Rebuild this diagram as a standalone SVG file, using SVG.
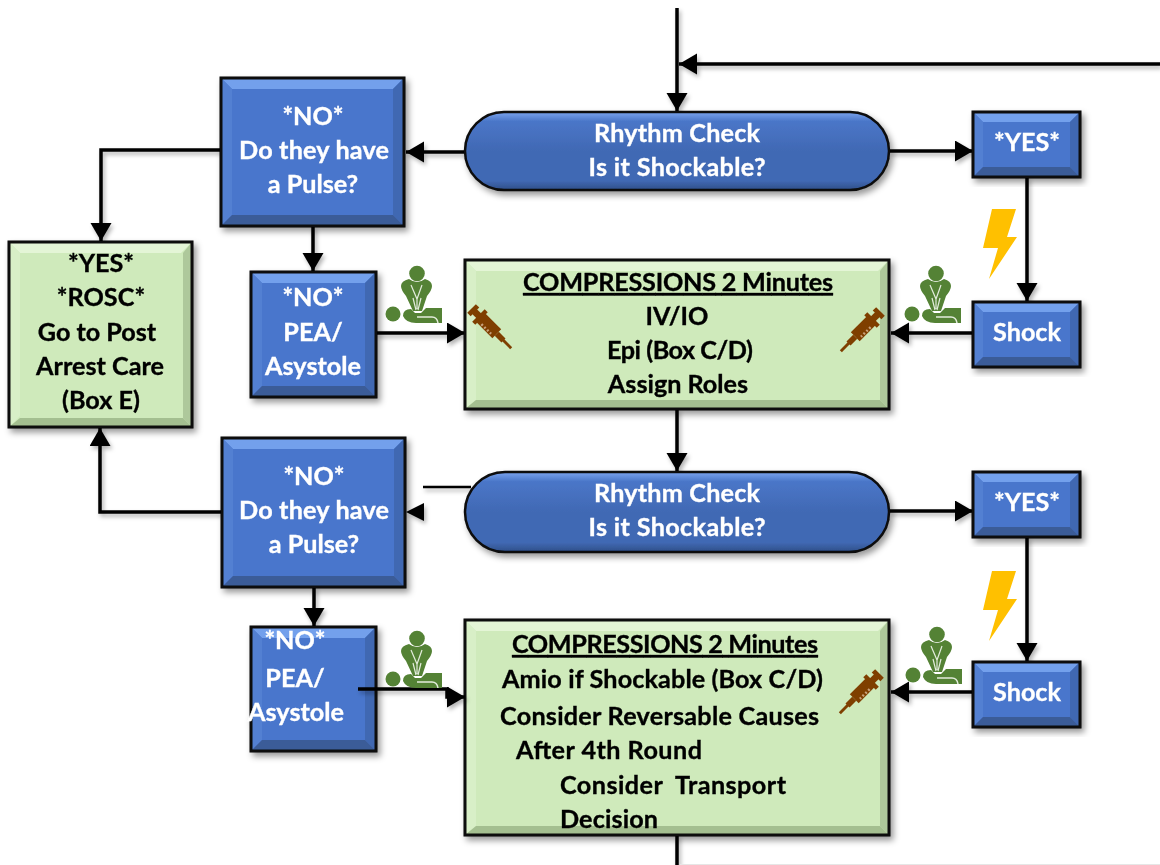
<svg xmlns="http://www.w3.org/2000/svg" xmlns:xlink="http://www.w3.org/1999/xlink" width="1160" height="865" viewBox="0 0 1160 865">
<style>
text{font-family:Lato,Carlito,"Open Sans",sans-serif;font-weight:700;font-size:25.2px;stroke-width:.35px}
.w{fill:#fff;stroke:#fff}.k{fill:#000;stroke:#000}
.m{text-anchor:middle}
.e{fill:none;stroke:#0c0c0c;stroke-width:3}
.bf{fill:#4a76cc}.bt{fill:#73a0ec}.bl{fill:#5380d2}.br{fill:#3f68b2}.bb{fill:#3a5c98}
.gf{fill:#cfeabb}.gt{fill:#e4f5d6}.gl{fill:#d8efc7}.gr{fill:#aec89b}.gb{fill:#a4bf90}
.c{fill:none;stroke:#000;stroke-width:3.5}
</style>
<defs>
<filter id="s" x="-15%" y="-15%" width="130%" height="130%"><feDropShadow dx="3" dy="4" stdDeviation="3" flood-color="#000" flood-opacity=".4"/></filter>
<filter id="ls" filterUnits="userSpaceOnUse" x="0" y="0" width="1160" height="865"><feDropShadow dx="2" dy="3" stdDeviation="2" flood-color="#000" flood-opacity=".3"/></filter>
<linearGradient id="pill" x1="0" y1="0" x2="0" y2="1"><stop offset="0" stop-color="#7ba4ee"/><stop offset=".12" stop-color="#4a76c8"/><stop offset=".5" stop-color="#4169b4"/><stop offset=".88" stop-color="#4169b4"/><stop offset="1" stop-color="#2f4f88"/></linearGradient>
<marker id="a" markerUnits="userSpaceOnUse" markerWidth="20" markerHeight="22" refX="18" refY="10.5" orient="auto"><path d="M0 0L18 10.5L0 21z" fill="#000"/></marker>
<symbol id="cpr" viewBox="0 0 58 58" overflow="visible">
<circle cx="31" cy="7.5" r="7.8" fill="#548235"/>
<path d="M15 20Q15 15 23 13Q31 19 39 13Q46 15 46 20Q46 24 41 30L36 45H27L20 30Q15 24 15 20z" fill="#548235"/>
<path d="M25 19L31 33L36 19M31 33V43M27 32L30 44M35 32L32 44" fill="none" stroke="#e3ecdc" stroke-width="1.2"/>
<circle cx="7" cy="48" r="7.5" fill="#548235"/>
<path d="M17 50Q17 43 25 43L29 47H35L40 42H56V57H30Q20 57 17 50z" fill="#548235"/>
<path d="M31 51H46Q51 51 52 57" fill="none" stroke="#e3ecdc" stroke-width="1.5"/>
</symbol>
<symbol id="syr" viewBox="0 0 50 50" overflow="visible">
<g fill="none" stroke="#7f3f00">
<path d="M2 11L11 2" stroke-width="5"/>
<path d="M6 6L14 14" stroke-width="7"/>
<path d="M7 20L20 7" stroke-width="4.5"/>
<path d="M14 14L31 31" stroke-width="13"/>
<path d="M31 31L38 38" stroke-width="6"/>
<path d="M36 36L46 46" stroke-width="3"/>
<path d="M15 21L25 31" stroke="#c9a27c" stroke-width="2.6" stroke-dasharray="2 2.2"/>
</g>
</symbol>
<symbol id="bolt" viewBox="0 0 34 70"><path d="M9 0H33L24 28H34L6 70L15 39H0z" fill="#ffc000"/></symbol>
</defs>

<g id="connectors" filter="url(#ls)">
<path class="c" d="M677 8V111" marker-end="url(#a)"/>
<path class="c" d="M1160 64H679" marker-end="url(#a)"/>
<path class="c" d="M466 152H406" marker-end="url(#a)"/>
<path class="c" d="M889 151H973" marker-end="url(#a)"/>
<path class="c" d="M221 150H101V241" marker-end="url(#a)"/>
<path class="c" d="M313 226V271" marker-end="url(#a)"/>
<path class="c" d="M1027 177V301" marker-end="url(#a)"/>
<path class="c" d="M973 333H891" marker-end="url(#a)"/>
<path class="c" d="M376 333H465" marker-end="url(#a)"/>
<path class="c" d="M677 409V471" marker-end="url(#a)"/>
<path class="c" d="M423 487H471" style="stroke-width:2.5"/>
<path d="M406 512L424 503V521z" fill="#000"/>
<path class="c" d="M222 512H100V428" marker-end="url(#a)"/>
<path class="c" d="M314 587V626" marker-end="url(#a)"/>
<path class="c" d="M889 511H973" marker-end="url(#a)"/>
<path class="c" d="M1027 537V661" marker-end="url(#a)"/>
<path class="c" d="M973 692H891" marker-end="url(#a)"/>
<path class="c" d="M677 835V865"/>
</g>
<path d="M680 864.5H1160" stroke="#e6e6e6" stroke-width="1" fill="none"/>

<g id="rosc" filter="url(#s)">
<rect class="gf" x="9" y="242" width="183" height="185"/>
<path class="gt" d="M9 242H192L181 253H20z"/><path class="gl" d="M9 242L20 253V416L9 427z"/><path class="gr" d="M192 242L183 253V418L192 427z"/><path class="gb" d="M9 427L20 418H183L192 427z"/>
<rect class="e" x="9" y="242" width="183" height="185"/>
<text class="k m" x="101" y="272">*YES*</text><text class="k m" x="101" y="306">*ROSC*</text><text class="k m" x="97" y="341">Go to Post</text><text class="k m" x="100" y="375">Arrest Care</text><text class="k m" x="101" y="409">(Box E)</text>
</g>

<g id="pulse1" filter="url(#s)">
<rect class="bf" x="221" y="78" width="183" height="148"/>
<path class="bt" d="M221 78H404L393 89H232z"/><path class="bl" d="M221 78L232 89V215L221 226z"/><path class="br" d="M404 78L393 89V215L404 226z"/><path class="bb" d="M221 226L232 215H393L404 226z"/>
<rect class="e" x="221" y="78" width="183" height="148"/>
<text class="w m" x="313" y="125">*NO*</text><text class="w m" x="314" y="159" textLength="150">Do they have</text><text class="w m" x="313" y="193">a Pulse?</text>
</g>

<g id="pea1" filter="url(#s)">
<rect class="bf" x="251" y="272" width="125" height="125"/>
<path class="bt" d="M251 272H376L365 283H262z"/><path class="bl" d="M251 272L262 283V386L251 397z"/><path class="br" d="M376 272L365 283V386L376 397z"/><path class="bb" d="M251 397L262 386H365L376 397z"/>
<rect class="e" x="251" y="272" width="125" height="125"/>
<text class="w m" x="313" y="306">*NO*</text><text class="w m" x="313" y="341">PEA/</text><text class="w m" x="313" y="375">Asystole</text>
</g>

<g id="rhythm1" filter="url(#s)">
<rect x="465" y="112" width="424" height="78" rx="39" fill="url(#pill)" stroke="#0c0c0c" stroke-width="2.5"/>
<text class="w m" x="677" y="142" textLength="166">Rhythm Check</text><text class="w m" x="677" y="176" textLength="177">Is it Shockable?</text>
</g>

<g id="yes1" filter="url(#s)">
<rect class="bf" x="973" y="112" width="107" height="65"/>
<path class="bt" d="M973 112H1080L1070 122H983z"/><path class="bl" d="M973 112L983 122V167L973 177z"/><path class="br" d="M1080 112L1070 122V167L1080 177z"/><path class="bb" d="M973 177L983 167H1070L1080 177z"/>
<rect class="e" x="973" y="112" width="107" height="65"/>
<text class="w m" x="1027" y="151">*YES*</text>
</g>

<g id="shock1" filter="url(#s)">
<rect class="bf" x="973" y="302" width="107" height="65"/>
<path class="bt" d="M973 302H1080L1070 312H983z"/><path class="bl" d="M973 302L983 312V357L973 367z"/><path class="br" d="M1080 302L1070 312V357L1080 367z"/><path class="bb" d="M973 367L983 357H1070L1080 367z"/>
<rect class="e" x="973" y="302" width="107" height="65"/>
<text class="w m" x="1027" y="341">Shock</text>
</g>

<g id="comp1" filter="url(#s)">
<rect class="gf" x="465" y="260" width="424" height="149"/>
<path class="gt" d="M465 260H889L878 271H476z"/><path class="gl" d="M465 260L476 271V400L465 409z"/><path class="gr" d="M889 260L880 271V400L889 409z"/><path class="gb" d="M465 409L476 400H880L889 409z"/>
<rect class="e" x="465" y="260" width="424" height="149"/>
<text class="k m" x="678" y="291" text-decoration="underline" textLength="310">COMPRESSIONS 2 Minutes</text><text class="k m" x="677" y="325">IV/IO</text><text class="k m" x="680" y="359" textLength="146">Epi (Box C/D)</text><text class="k m" x="678" y="393">Assign Roles</text>
</g>

<g id="pulse2" filter="url(#s)">
<rect class="bf" x="222" y="438" width="183" height="149"/>
<path class="bt" d="M222 438H405L394 449H233z"/><path class="bl" d="M222 438L233 449V576L222 587z"/><path class="br" d="M405 438L394 449V576L405 587z"/><path class="bb" d="M222 587L233 576H394L405 587z"/>
<rect class="e" x="222" y="438" width="183" height="149"/>
<text class="w m" x="314" y="485">*NO*</text><text class="w m" x="314" y="519" textLength="150">Do they have</text><text class="w m" x="314" y="553">a Pulse?</text>
</g>

<g id="pea2" filter="url(#s)">
<rect class="bf" x="251" y="627" width="125" height="124"/>
<path class="bt" d="M251 627H376L365 638H262z"/><path class="bl" d="M251 627L262 638V740L251 751z"/><path class="br" d="M376 627L365 638V740L376 751z"/><path class="bb" d="M251 751L262 740H365L376 751z"/>
<rect class="e" x="251" y="627" width="125" height="124"/>
<text class="w m" x="295" y="649">*NO*</text><text class="w m" x="295" y="687">PEA/</text><text class="w m" x="296" y="721">Asystole</text>
</g>

<g id="rhythm2" filter="url(#s)">
<rect x="465" y="472" width="424" height="80" rx="40" fill="url(#pill)" stroke="#0c0c0c" stroke-width="2.5"/>
<text class="w m" x="677" y="502" textLength="166">Rhythm Check</text><text class="w m" x="677" y="536" textLength="177">Is it Shockable?</text>
</g>

<g id="yes2" filter="url(#s)">
<rect class="bf" x="973" y="472" width="107" height="65"/>
<path class="bt" d="M973 472H1080L1070 482H983z"/><path class="bl" d="M973 472L983 482V527L973 537z"/><path class="br" d="M1080 472L1070 482V527L1080 537z"/><path class="bb" d="M973 537L983 527H1070L1080 537z"/>
<rect class="e" x="973" y="472" width="107" height="65"/>
<text class="w m" x="1027" y="511">*YES*</text>
</g>

<g id="shock2" filter="url(#s)">
<rect class="bf" x="973" y="662" width="107" height="65"/>
<path class="bt" d="M973 662H1080L1070 672H983z"/><path class="bl" d="M973 662L983 672V717L973 727z"/><path class="br" d="M1080 662L1070 672V717L1080 727z"/><path class="bb" d="M973 727L983 717H1070L1080 727z"/>
<rect class="e" x="973" y="662" width="107" height="65"/>
<text class="w m" x="1027" y="701">Shock</text>
</g>

<g id="comp2" filter="url(#s)">
<rect class="gf" x="465" y="620" width="424" height="215"/>
<path class="gt" d="M465 620H889L878 631H476z"/><path class="gl" d="M465 620L476 631V826L465 835z"/><path class="gr" d="M889 620L880 631V826L889 835z"/><path class="gb" d="M465 835L476 826H880L889 835z"/>
<rect class="e" x="465" y="620" width="424" height="215"/>
<text class="k m" x="665" y="653" text-decoration="underline" textLength="306">COMPRESSIONS 2 Minutes</text>
<text class="k" x="502" y="688" textLength="321">Amio if Shockable (Box C/D)</text>
<text class="k" x="500" y="725" textLength="319">Consider Reversable Causes</text>
<text class="k" x="516" y="759" textLength="186">After 4th Round</text>
<text class="k" x="560" y="794" xml:space="preserve" textLength="226">Consider  Transport</text>
<text class="k" x="560" y="828" textLength="98">Decision</text>
</g>

<g id="connector-overlay" filter="url(#ls)">
<path class="c" d="M358 689H447V697H465" marker-end="url(#a)"/>
</g>

<g id="icons">
<use xlink:href="#cpr" href="#cpr" x="386" y="266" width="58" height="58"/>
<use xlink:href="#cpr" href="#cpr" x="905" y="266" width="58" height="58"/>
<use xlink:href="#cpr" href="#cpr" x="386" y="631" width="58" height="58"/>
<use xlink:href="#cpr" href="#cpr" x="906" y="627" width="58" height="58"/>
<use xlink:href="#syr" href="#syr" x="467" y="304" width="48" height="48"/>
<g transform="translate(885,307) scale(-1,1)"><use xlink:href="#syr" href="#syr" width="48" height="48"/></g>
<g transform="translate(884,669) scale(-1,1)"><use xlink:href="#syr" href="#syr" width="48" height="48"/></g>
<use xlink:href="#bolt" href="#bolt" x="983" y="209" width="34" height="70"/>
<use xlink:href="#bolt" href="#bolt" x="983" y="571" width="34" height="70"/>
</g>
</svg>
